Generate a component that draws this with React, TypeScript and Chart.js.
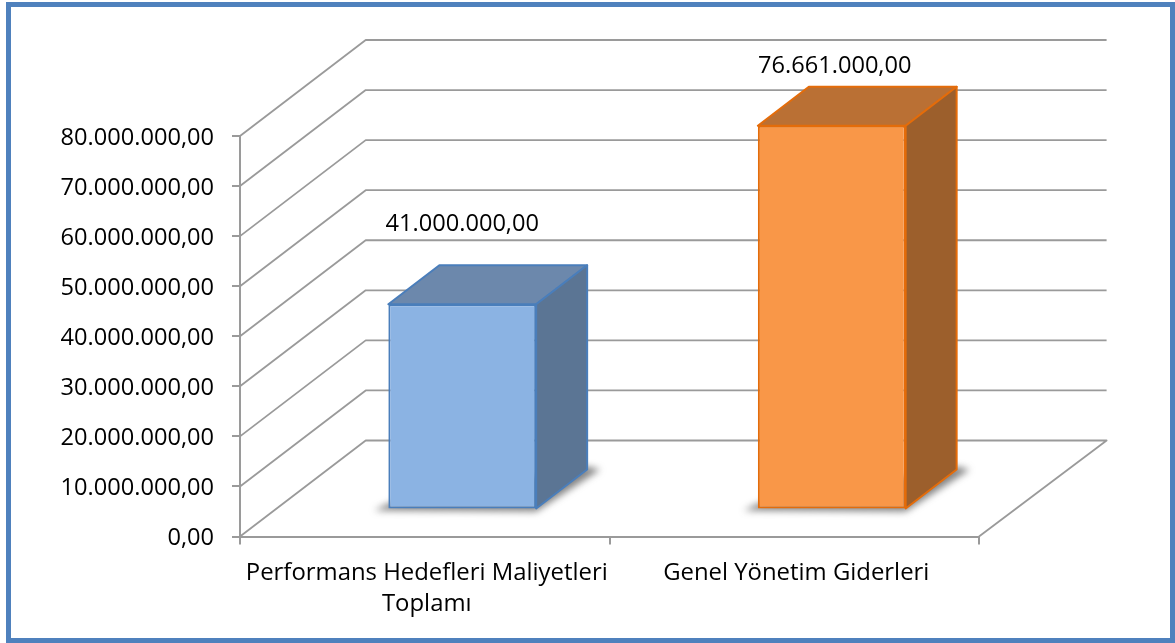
import React, { useEffect, useRef } from "react";
import { Chart, registerables } from "chart.js";

Chart.register(...registerables);

const categories = [["Performans Hedefleri Maliyetleri", "Toplamı"], "Genel Yönetim Giderleri"];
const costValues = [41000000, 76661000];
const axisMax = 80000000;
const axisStep = 10000000;

const frontColors = ["#8BB3E3", "#F99748"];
const sideColors = ["#5B7594", "#9C5F2C"];
const topColors = ["#6C88AC", "#BA7034"];
const edgeColors = ["#4A7EBB", "#E46C0A"];

const FONT = '"Open Sans", sans-serif';
const FONT_SIZE = 23.6;
const X_FONT_SIZE = 23.9;
const GRID = "#9A9A9A";
const WALL_DX_LEFT = 125.7;
const WALL_DX_RIGHT = 127.6;
const WALL_DY = 96;
const BAR_SHIFT_X = 37.5;
const BAR_SHIFT_Y = 27;
const BAR_DX = 51;
const BAR_DY = 39;
const LABEL_LIFT = [80, 59];
const LABEL_SHIFT = [0, 3];

const fmt = (v: number) => {
  const whole = String(Math.round(v)).replace(/\B(?=(\d{3})+(?!\d))/g, ".");
  return whole + ",00";
};

const poly = (ctx: CanvasRenderingContext2D, pts: number[][]) => {
  ctx.beginPath();
  pts.forEach((p, i) => (i ? ctx.lineTo(p[0], p[1]) : ctx.moveTo(p[0], p[1])));
  ctx.closePath();
};

const scene = {
  id: "scene",
  beforeDraw(chart: any) {
    const { ctx, width, height } = chart;
    ctx.save();
    ctx.fillStyle = "#FFFFFF";
    ctx.fillRect(0, 0, width, height);
    ctx.strokeStyle = "#4F81BD";
    ctx.lineWidth = 5;
    ctx.strokeRect(8.5, 4.5, width - 8.5 - 2.5, height - 4.5 - 2.5);
    ctx.restore();
  },
  beforeDatasetsDraw(chart: any) {
    const { ctx, chartArea, scales } = chart;
    const { left, right } = chartArea;
    ctx.save();
    ctx.strokeStyle = GRID;
    ctx.lineWidth = 1.8;
    ctx.lineJoin = "round";
    for (let v = 0; v <= axisMax; v += axisStep) {
      const y = scales.y.getPixelForValue(v);
      ctx.beginPath();
      ctx.moveTo(left, y);
      ctx.lineTo(left + WALL_DX_LEFT, y - WALL_DY);
      ctx.lineTo(right + WALL_DX_RIGHT, y - WALL_DY);
      if (v === 0) ctx.lineTo(right, y);
      ctx.stroke();
    }

    const bars = chart.getDatasetMeta(0).data;
    bars.forEach((bar: any, i: number) => {
      const { x, y, base, width } = bar.getProps(["x", "y", "base", "width"], true);
      const l = x - width / 2 + BAR_SHIFT_X;
      const r = x + width / 2 + BAR_SHIFT_X;
      const t = y - BAR_SHIFT_Y;
      const b = base - BAR_SHIFT_Y;

      ctx.save();
      ctx.filter = "blur(3.5px)";
      ctx.fillStyle = "rgba(80,80,80,0.7)";
      poly(ctx, [
        [l - 14, b + 2],
        [r, b + 3],
        [r + BAR_DX + 13, b - BAR_DY],
        [r + BAR_DX, b - BAR_DY - 3],
        [l, b - 5],
      ]);
      ctx.fill();
      ctx.restore();

      ctx.strokeStyle = edgeColors[i];
      ctx.lineWidth = 2;
      ctx.lineJoin = "round";
      ctx.fillStyle = topColors[i];
      poly(ctx, [
        [l, t],
        [l + BAR_DX, t - BAR_DY],
        [r + BAR_DX, t - BAR_DY],
        [r, t],
      ]);
      ctx.fill();
      ctx.stroke();
      ctx.fillStyle = sideColors[i];
      poly(ctx, [
        [r, t],
        [r + BAR_DX, t - BAR_DY],
        [r + BAR_DX, b - BAR_DY],
        [r, b],
      ]);
      ctx.fill();
      ctx.stroke();
    });
    ctx.restore();

    ctx.save();
    ctx.translate(BAR_SHIFT_X, -BAR_SHIFT_Y);
  },
  afterDatasetsDraw(chart: any) {
    const { ctx } = chart;
    ctx.restore();
    ctx.save();
    ctx.font = `${FONT_SIZE}px ${FONT}`;
    ctx.fillStyle = "#000000";
    ctx.textAlign = "center";
    ctx.textBaseline = "middle";
    chart.getDatasetMeta(0).data.forEach((bar: any, i: number) => {
      const { x, y } = bar.getProps(["x", "y"], true);
      ctx.fillText(fmt(costValues[i]), x + BAR_SHIFT_X + LABEL_SHIFT[i], y - BAR_SHIFT_Y - LABEL_LIFT[i]);
    });
    ctx.restore();
  },
};

export default function App() {
  const ref = useRef<HTMLCanvasElement>(null);
  useEffect(() => {
    const chart = new Chart(ref.current as HTMLCanvasElement, {
      type: "bar",
      data: {
        labels: categories as any,
        datasets: [
          {
            data: costValues,
            backgroundColor: frontColors,
            borderColor: edgeColors,
            borderWidth: 2,
            borderSkipped: false,
            barPercentage: 0.4,
            categoryPercentage: 1,
            clip: false as any,
          },
        ],
      },
      options: {
        responsive: false,
        animation: false,
        layout: { padding: { top: 136, right: 196, left: 0, bottom: 0 } },
        plugins: { legend: { display: false }, tooltip: { enabled: false } },
        scales: {
          x: {
            afterFit: (s: any) => {
              s.height = 106.5;
            },
            border: { color: GRID, width: 2 },
            grid: { drawOnChartArea: false, color: GRID, lineWidth: 2, tickLength: 8 },
            ticks: {
              color: "#000000",
              font: { family: FONT, size: X_FONT_SIZE, lineHeight: 1.3 },
              padding: 13,
              labelOffset: 2,
              maxRotation: 0,
              minRotation: 0,
              autoSkip: false,
            },
          },
          y: {
            min: 0,
            max: axisMax,
            afterFit: (s: any) => {
              s.width = 240;
            },
            border: { color: GRID, width: 2 },
            grid: { drawOnChartArea: false, color: GRID, lineWidth: 2, tickLength: 8 },
            ticks: {
              stepSize: axisStep,
              color: "#000000",
              font: { family: FONT, size: FONT_SIZE },
              padding: 18,
              labelOffset: 2,
              callback: (v: any) => fmt(Number(v)),
            },
          },
        },
      },
      plugins: [scene as any],
    });
    return () => chart.destroy();
  }, []);
  return (
    <canvas
      ref={ref}
      width={1175}
      height={643}
      style={{ position: "fixed", left: 0, top: 0, width: 1175, height: 643, display: "block" }}
    />
  );
}
